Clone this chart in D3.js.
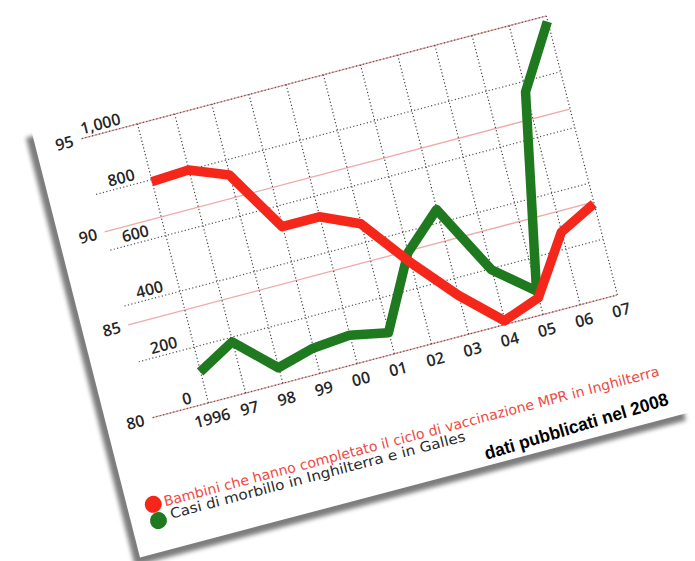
<!DOCTYPE html>
<html>
<head>
<meta charset="utf-8">
<script src="https://cdn.jsdelivr.net/npm/d3@7"></script>
<style>
  body { margin: 0; background: #fff; }
  svg { display: block; }
  .tick-label { font-family: "Open Sans", sans-serif; font-weight: 600; font-size: 16px; fill: #262626; }
</style>
</head>
<body>
<svg id="chart"></svg>
<script>
// years on the bottom axis
const years = ["1996", "97", "98", "99", "00", "01", "02", "03", "04", "05", "06", "07"];
// % children with full MMR course (red, left outer scale)
const vaccinated = [91.9, 92.0, 91.2, 87.9, 87.9, 87.0, 84.4, 82.1, 80.2, 80.9, 83.9, 84.9];
// measles cases England & Wales (green, left inner scale)
const measles = [111, 184, 56, 91, 102, 76, 327, 447, 196, 85, 763, 980];
const pctTicks = [80, 85, 90, 95];
const caseTicks = [0, 200, 400, 600, 800, 1000];
const legendLabels = [
    "Bambini che hanno completato il ciclo di vaccinazione MPR in Inghilterra",
    "Casi di morbillo in Inghilterra e in Galles"
];
const note = "dati pubblicati nel 2008";

const width = 695, height = 561;
const plotW = 423, plotH = 288;
const red = "#f5261a", green = "#1f7a1f";

const svg = d3.select("#chart")
    .attr("width", width)
    .attr("height", height);

svg.append("defs").append("filter")
    .attr("id", "soft")
    .attr("x", "-5%").attr("y", "-5%")
    .attr("width", "110%").attr("height", "110%")
    .append("feGaussianBlur")
    .attr("stdDeviation", 2.2);

// the whole sheet is tilted like the photographed page
const sheet = svg.append("g")
    .attr("transform", "matrix(0.9667,-0.2553,0.2465,0.9688,137,124)");

// paper card + shadow on left and bottom
sheet.append("rect")
    .attr("x", -111).attr("y", -15)
    .attr("width", 570).attr("height", 442)
    .attr("fill", "#7d7d7d")
    .attr("filter", "url(#soft)");
sheet.append("rect")
    .attr("x", -104).attr("y", -22)
    .attr("width", 570).attr("height", 442)
    .attr("fill", "#fff");

const xScale = d3.scalePoint().domain(years).range([0, plotW]);
const yPct = d3.scaleLinear().domain([80, 95]).range([plotH, 0]);
const yCases = d3.scaleLinear().domain([0, 1000]).range([plotH, 0]);

// pink lines for the % scale
sheet.append("g").selectAll("line")
    .data(pctTicks)
    .join("line")
    .attr("x1", -58).attr("x2", plotW)
    .attr("y1", d => yPct(d)).attr("y2", d => yPct(d))
    .attr("stroke", "#f0a9a9")
    .attr("stroke-width", 1.3);

// dotted lines for the cases scale
sheet.append("g").selectAll("line")
    .data(caseTicks)
    .join("line")
    .attr("x1", -57).attr("x2", plotW)
    .attr("y1", d => yCases(d)).attr("y2", d => yCases(d))
    .attr("stroke", "#555")
    .attr("stroke-width", 1.2)
    .attr("stroke-dasharray", "1.2,2.3");

// x axis: dotted verticals + year labels
const xAxisG = sheet.append("g")
    .attr("transform", `translate(0,${plotH})`)
    .call(d3.axisBottom(xScale).tickSize(-plotH).tickSizeOuter(0).tickPadding(10));
xAxisG.select(".domain").remove();
xAxisG.selectAll("line")
    .attr("stroke", "#444")
    .attr("stroke-width", 1.2)
    .attr("stroke-dasharray", "1.2,2.3");
xAxisG.selectAll("text").attr("class", "tick-label").attr("fill", null);

// outer left axis (percent)
const pctAxisG = sheet.append("g")
    .attr("transform", "translate(-58,0)")
    .call(d3.axisLeft(yPct).tickValues(pctTicks).tickSize(0).tickPadding(8));
pctAxisG.select(".domain").remove();
pctAxisG.selectAll("text").attr("class", "tick-label").attr("fill", null);

// inner left axis (cases)
const casesAxisG = sheet.append("g")
    .call(d3.axisLeft(yCases).tickValues(caseTicks).tickSize(0).tickPadding(15)
        .tickFormat(d3.format(",")));
casesAxisG.select(".domain").remove();
casesAxisG.selectAll("text")
    .attr("class", "tick-label").attr("fill", null)
    .attr("dy", "-0.28em");

// series
const pctLine = d3.line()
    .x((d, i) => xScale(years[i]))
    .y(d => yPct(d));
const casesLine = d3.line()
    .x((d, i) => xScale(years[i]))
    .y(d => yCases(d));

sheet.append("path")
    .datum(measles)
    .attr("d", casesLine)
    .attr("fill", "none")
    .attr("stroke", green)
    .attr("stroke-width", 9.5)
    .attr("stroke-linejoin", "round");

sheet.append("path")
    .datum(vaccinated)
    .attr("d", pctLine)
    .attr("fill", "none")
    .attr("stroke", red)
    .attr("stroke-width", 9.5)
    .attr("stroke-linejoin", "round");

// legend
const legend = sheet.append("g");
legend.append("circle").attr("cx", -78).attr("cy", 372).attr("r", 8.5).attr("fill", red);
legend.append("circle").attr("cx", -77).attr("cy", 389).attr("r", 8.5).attr("fill", green);
legend.append("text")
    .attr("x", -67).attr("y", 377)
    .attr("textLength", 512).attr("lengthAdjust", "spacingAndGlyphs")
    .style("font-family", "'DejaVu Sans', sans-serif")
    .style("font-size", "14px")
    .attr("fill", "#ef4a44")
    .text(legendLabels[0]);
legend.append("text")
    .attr("x", -64).attr("y", 390.5)
    .attr("textLength", 305).attr("lengthAdjust", "spacingAndGlyphs")
    .style("font-family", "'DejaVu Sans', sans-serif")
    .style("font-size", "14px")
    .attr("fill", "#2a2a2a")
    .text(legendLabels[1]);

// publication note
sheet.append("text")
    .attr("transform", "translate(256,414) rotate(-2)")
    .attr("textLength", 191).attr("lengthAdjust", "spacingAndGlyphs")
    .style("font-family", "'Liberation Sans', Arial, sans-serif")
    .style("font-weight", "bold")
    .style("font-size", "18px")
    .attr("fill", "#000")
    .text(note);
</script>
</body>
</html>
